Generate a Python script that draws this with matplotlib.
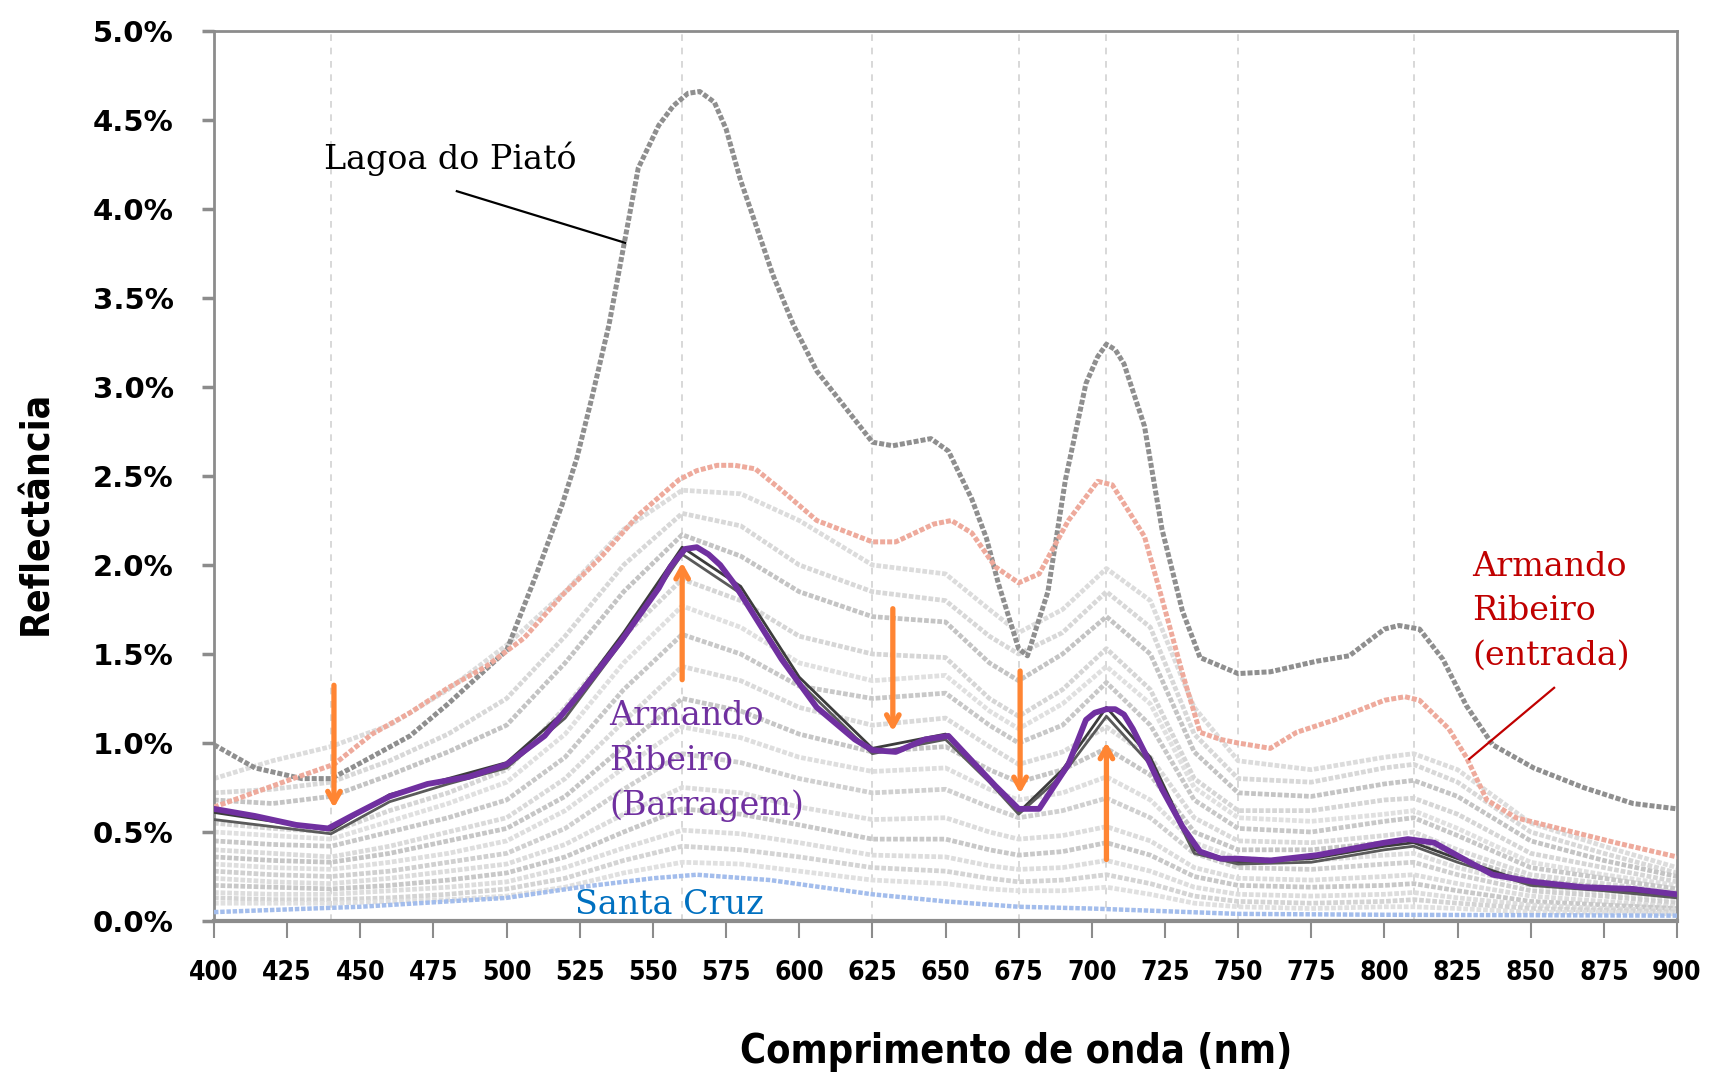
import matplotlib
matplotlib.use('Agg')
import matplotlib.pyplot as plt
from matplotlib.ticker import FuncFormatter

# ---- data (reflectance in %) ----
# Lagoa do Piató
piato_nm = [400, 414, 430, 440, 447, 467, 480, 500, 510, 519, 524, 529, 535, 540, 545, 552, 557, 562, 566, 571,
            575, 580, 585, 591, 598, 606, 625, 632, 645, 651, 659, 664, 668, 675, 678, 685, 691, 698, 702, 705,
            708, 711, 718, 724, 731, 737, 750, 761, 777, 788, 800, 805, 812, 820, 828, 837, 851, 868, 885, 900]
piato = [0.99, 0.86, 0.80, 0.80, 0.86, 1.04, 1.22, 1.52, 1.94, 2.34, 2.60, 2.93, 3.35, 3.79, 4.23, 4.47, 4.58, 4.65,
         4.66, 4.60, 4.45, 4.16, 3.92, 3.63, 3.35, 3.09, 2.69, 2.67, 2.71, 2.64, 2.37, 2.15, 1.90, 1.53, 1.49, 1.85,
         2.48, 3.02, 3.17, 3.24, 3.21, 3.13, 2.78, 2.20, 1.74, 1.48, 1.39, 1.40, 1.46, 1.49, 1.64, 1.66, 1.64, 1.47,
         1.21, 0.99, 0.86, 0.75, 0.66, 0.63]

# Armando Ribeiro (entrada)
entrada_nm = [400, 427, 441, 454, 467, 480, 493, 506, 519, 532, 545, 559, 565, 572, 578, 585, 594, 606, 625, 633,
              646, 652, 659, 667, 675, 682, 692, 702, 707, 718, 724, 731, 737, 744, 750, 761, 770, 783,
              800, 807, 812, 822, 828, 835, 845, 862, 879, 900]
entrada = [0.64, 0.80, 0.88, 1.05, 1.17, 1.31, 1.43, 1.59, 1.83, 2.04, 2.28, 2.48, 2.53, 2.56, 2.56, 2.54, 2.42, 2.25,
           2.13, 2.13, 2.23, 2.25, 2.18, 1.99, 1.90, 1.95, 2.25, 2.47, 2.45, 2.16, 1.81, 1.39, 1.06, 1.02, 1.00, 0.97,
           1.06, 1.13, 1.24, 1.26, 1.24, 1.08, 0.92, 0.68, 0.58, 0.51, 0.44, 0.36]

# Armando Ribeiro (Barragem)
barragem_nm = [400, 414, 428, 439, 447, 460, 473, 487, 500, 513, 526, 539, 552, 556, 561, 565, 569, 573, 578, 586,
               594, 606, 619, 625, 633, 643, 651, 659, 667, 675, 682, 692, 698, 701, 705, 708, 711, 714, 718, 724,
               731, 737, 744, 750, 761, 777, 800, 808, 817, 828, 837, 851, 868, 885, 900]
barragem = [0.63, 0.59, 0.54, 0.52, 0.59, 0.70, 0.77, 0.81, 0.88, 1.04, 1.30, 1.57, 1.87, 1.99, 2.09, 2.10, 2.06, 2.00,
            1.89, 1.68, 1.47, 1.20, 1.02, 0.96, 0.95, 1.02, 1.04, 0.90, 0.76, 0.63, 0.63, 0.88, 1.13, 1.17, 1.19, 1.19,
            1.16, 1.08, 0.95, 0.74, 0.53, 0.39, 0.35, 0.35, 0.34, 0.37, 0.44, 0.46, 0.44, 0.34, 0.26, 0.22, 0.19, 0.18,
            0.15]

# Santa Cruz
santa_nm = [400, 450, 500, 525, 550, 565, 590, 625, 650, 675, 700, 750, 800, 900]
santa = [0.05, 0.08, 0.13, 0.19, 0.24, 0.26, 0.23, 0.15, 0.11, 0.08, 0.07, 0.04, 0.035, 0.03]

# other sampling points (common wavelength grid)
wl = [400, 420, 440, 460, 480, 500, 520, 540, 560, 580, 600, 625, 650, 665, 675, 690, 705, 720, 735,
      750, 775, 800, 810, 825, 850, 875, 900]
dark_a = [0.61, 0.56, 0.51, 0.71, 0.80, 0.89, 1.18, 1.62, 2.10, 1.88, 1.37, 0.97, 1.05, 0.80, 0.61, 0.85, 1.20, 0.92,
          0.40, 0.33, 0.35, 0.42, 0.44, 0.35, 0.21, 0.18, 0.14]
dark_b = [0.57, 0.53, 0.49, 0.67, 0.77, 0.86, 1.14, 1.58, 2.06, 1.84, 1.34, 0.94, 1.02, 0.78, 0.60, 0.82, 1.15, 0.88,
          0.38, 0.32, 0.33, 0.40, 0.42, 0.33, 0.20, 0.17, 0.13]
grey_1 = [0.80, 0.90, 0.98, 1.10, 1.30, 1.55, 1.85, 2.20, 2.42, 2.40, 2.25, 2.00, 1.95, 1.75, 1.62, 1.75, 1.98, 1.80,
          1.20, 0.90, 0.85, 0.92, 0.94, 0.85, 0.55, 0.42, 0.30]
grey_2 = [0.72, 0.74, 0.78, 0.90, 1.05, 1.25, 1.60, 2.00, 2.29, 2.22, 2.00, 1.85, 1.80, 1.60, 1.50, 1.62, 1.85, 1.65,
          1.05, 0.80, 0.78, 0.86, 0.88, 0.78, 0.50, 0.38, 0.27]
grey_3 = [0.68, 0.66, 0.70, 0.82, 0.95, 1.10, 1.45, 1.85, 2.17, 2.05, 1.85, 1.71, 1.68, 1.45, 1.35, 1.50, 1.71, 1.50,
          0.95, 0.72, 0.70, 0.77, 0.79, 0.70, 0.45, 0.34, 0.25]
grey_4 = [0.55, 0.52, 0.50, 0.62, 0.72, 0.85, 1.20, 1.60, 1.92, 1.80, 1.60, 1.50, 1.48, 1.25, 1.15, 1.30, 1.53, 1.30,
          0.80, 0.62, 0.62, 0.68, 0.69, 0.60, 0.38, 0.30, 0.22]
grey_5 = [0.50, 0.48, 0.46, 0.56, 0.66, 0.78, 1.05, 1.45, 1.77, 1.65, 1.45, 1.35, 1.38, 1.18, 1.08, 1.22, 1.43, 1.22,
          0.75, 0.58, 0.56, 0.60, 0.62, 0.52, 0.33, 0.26, 0.20]
grey_6 = [0.45, 0.43, 0.42, 0.50, 0.58, 0.68, 0.92, 1.30, 1.61, 1.50, 1.32, 1.25, 1.28, 1.10, 1.00, 1.10, 1.34, 1.10,
          0.68, 0.52, 0.50, 0.56, 0.58, 0.48, 0.30, 0.24, 0.18]
grey_7 = [0.40, 0.38, 0.36, 0.42, 0.50, 0.58, 0.80, 1.12, 1.43, 1.35, 1.20, 1.10, 1.14, 0.98, 0.88, 0.95, 1.09, 0.92,
          0.58, 0.45, 0.44, 0.48, 0.50, 0.40, 0.26, 0.21, 0.16]
grey_8 = [0.36, 0.34, 0.33, 0.38, 0.45, 0.52, 0.70, 0.98, 1.25, 1.18, 1.05, 0.95, 0.98, 0.85, 0.78, 0.85, 0.97, 0.82,
          0.50, 0.40, 0.40, 0.44, 0.45, 0.36, 0.23, 0.19, 0.14]
grey_9 = [0.32, 0.30, 0.29, 0.33, 0.38, 0.45, 0.62, 0.86, 1.09, 1.03, 0.92, 0.84, 0.86, 0.74, 0.68, 0.72, 0.81, 0.68,
          0.44, 0.35, 0.34, 0.37, 0.38, 0.30, 0.20, 0.16, 0.12]
grey_10 = [0.28, 0.26, 0.25, 0.28, 0.33, 0.38, 0.52, 0.74, 0.94, 0.89, 0.80, 0.72, 0.74, 0.64, 0.58, 0.62, 0.69, 0.58,
           0.38, 0.30, 0.29, 0.32, 0.33, 0.26, 0.17, 0.14, 0.10]
grey_11 = [0.24, 0.22, 0.21, 0.24, 0.28, 0.32, 0.43, 0.60, 0.75, 0.72, 0.64, 0.57, 0.58, 0.50, 0.46, 0.48, 0.53, 0.45,
           0.30, 0.24, 0.23, 0.25, 0.26, 0.21, 0.14, 0.11, 0.08]
grey_12 = [0.20, 0.19, 0.18, 0.20, 0.23, 0.27, 0.36, 0.50, 0.63, 0.60, 0.54, 0.46, 0.46, 0.40, 0.37, 0.39, 0.44, 0.37,
           0.25, 0.20, 0.19, 0.20, 0.21, 0.17, 0.11, 0.09, 0.07]
grey_13 = [0.16, 0.15, 0.15, 0.17, 0.19, 0.22, 0.30, 0.41, 0.51, 0.49, 0.44, 0.37, 0.36, 0.31, 0.29, 0.30, 0.34, 0.28,
           0.19, 0.15, 0.14, 0.15, 0.16, 0.13, 0.09, 0.07, 0.06]
grey_14 = [0.13, 0.12, 0.12, 0.13, 0.15, 0.18, 0.24, 0.34, 0.42, 0.40, 0.36, 0.30, 0.28, 0.24, 0.22, 0.23, 0.26, 0.21,
           0.14, 0.11, 0.10, 0.11, 0.12, 0.10, 0.07, 0.06, 0.05]
grey_15 = [0.10, 0.10, 0.10, 0.11, 0.12, 0.14, 0.19, 0.27, 0.33, 0.32, 0.28, 0.23, 0.21, 0.18, 0.17, 0.17, 0.19, 0.15,
           0.10, 0.08, 0.07, 0.08, 0.08, 0.07, 0.05, 0.05, 0.04]

grey_lines = [grey_1, grey_2, grey_3, grey_4, grey_5, grey_6, grey_7, grey_8,
              grey_9, grey_10, grey_11, grey_12, grey_13, grey_14, grey_15]
grey_cols = ['#dcdcdc', '#d8d8d8', '#c4c4c4', '#d6d6d6', '#e0e0e0', '#c8c8c8', '#dadada', '#c6c6c6',
             '#dedede', '#d0d0d0', '#dcdcdc', '#c8c8c8', '#dddddd', '#d4d4d4', '#e0e0e0']

vlines = [440, 560, 625, 675, 705, 750, 810]

# arrows: (x, start, end)
arrows = [(441, 1.34, 0.62), (560, 1.34, 2.03), (632, 1.77, 1.05), (675.5, 1.42, 0.70), (705, 0.33, 1.02)]

xticks = list(range(400, 901, 25))
yticks = [0, 0.5, 1.0, 1.5, 2.0, 2.5, 3.0, 3.5, 4.0, 4.5, 5.0]

# ---- figure ----
fig = plt.figure(figsize=(17.13, 10.77), dpi=100)
ax = fig.add_axes([214 / 1713, 1 - 921 / 1077, (1677 - 214) / 1713, (921 - 31) / 1077])

dots = (0, (1.0, 0.4))
for vals, col in zip(grey_lines, grey_cols):
    ax.plot(wl, vals, color=col, lw=3.4, ls=dots, zorder=2)

ax.plot(santa_nm, santa, color='#a3bdec', lw=3.2, ls=dots, zorder=3)
ax.plot(piato_nm, piato, color='#8f8f8f', lw=3.6, ls=dots, zorder=3)
ax.plot(entrada_nm, entrada, color='#eeaa9c', lw=3.6, ls=dots, zorder=3)

ax.plot(wl, dark_a, color='#3c3c3c', lw=2.0, zorder=4)
ax.plot(wl, dark_b, color='#5a5a5a', lw=2.0, zorder=4)
ax.plot(barragem_nm, barragem, color='#7030a0', lw=4.2, zorder=5)

for v in vlines:
    ax.axvline(v, color='#d2d2d2', lw=1.2, ls=(0, (4, 4)), zorder=1)

for x, y0, y1 in arrows:
    ax.annotate('', xy=(x, y1), xytext=(x, y0),
                arrowprops=dict(arrowstyle='->,head_length=0.8,head_width=0.45',
                                color='#ff8533', lw=3.8), zorder=6)

serif = 'DejaVu Serif'
fs = 24
ax.text(437.5, 4.28, 'Lagoa do Piató', fontsize=fs, family=serif, color='black', va='center', zorder=7)
ax.plot([483, 540.5], [4.10, 3.81], color='black', lw=1.6, zorder=7)

ax.text(535, 1.24, 'Armando\nRibeiro\n(Barragem)', fontsize=fs, family=serif, color='#7030a0',
        va='top', linespacing=1.5, zorder=7)
ax.text(523.5, 0.09, 'Santa Cruz', fontsize=fs, family=serif, color='#0070c0', va='center', zorder=7)
ax.text(830, 2.08, 'Armando\nRibeiro\n(entrada)', fontsize=fs, family=serif, color='#c00000',
        va='top', linespacing=1.5, zorder=7)
ax.plot([858, 829], [1.31, 0.91], color='#c00000', lw=1.6, zorder=7)

ax.set_xlim(400, 900)
ax.set_ylim(0, 5.0)
ax.set_xticks(xticks)
ax.set_yticks(yticks)
ax.yaxis.set_major_formatter(FuncFormatter(lambda v, p: f'{v:.1f}%'))

for s in ax.spines.values():
    s.set_color('#8c8c8c')
    s.set_linewidth(2.0)
ax.spines['bottom'].set_linewidth(3.0)

ax.tick_params(axis='y', direction='out', length=9, width=2.5, color='#8c8c8c', pad=20)
ax.tick_params(axis='x', direction='out', length=12, width=1.5, color='#8c8c8c', pad=16)
for lab in ax.get_yticklabels():
    lab.set_fontsize(21)
    lab.set_fontweight('bold')
    lab.set_family('DejaVu Sans')
for lab in ax.get_xticklabels():
    lab.set_fontsize(19)
    lab.set_fontweight('bold')
    lab.set_family('DejaVu Sans')
    lab.set_fontstretch('condensed')

fig.text(36 / 1713, 1 - 513 / 1077, 'Reflectância', rotation=90, fontsize=28, fontweight='bold',
         fontstretch='condensed', ha='center', va='center')
fig.text(1016 / 1713, 1 - 1052 / 1077, 'Comprimento de onda (nm)', fontsize=28.5,
         fontweight='bold', fontstretch='condensed', ha='center', va='center')

fig.savefig('out.png', dpi=100)
